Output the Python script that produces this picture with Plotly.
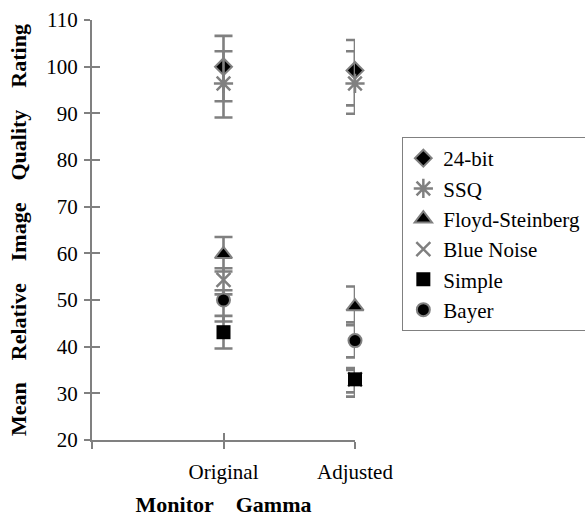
import plotly.graph_objects as go

categories = ["Original", "Adjusted"]
cat_pos = [1, 2]

series_names = ["24-bit", "SSQ", "Floyd-Steinberg", "Blue Noise", "Simple", "Bayer"]
vals_24bit = [100.0, 99.2]
plus_24bit = [6.6, 6.5]
minus_24bit = [7.4, 7.5]

vals_ssq = [96.4, 96.4]
plus_ssq = [6.9, 6.9]
minus_ssq = [7.3, 6.5]

vals_floyd = [59.8, 48.6]
plus_floyd = [3.7, 4.3]
minus_floyd = [3.7, 4.0]

vals_blue = [54.3, 33.0]
plus_blue = [2.5, 2.0]
minus_blue = [3.1, 2.8]

vals_simple = [43.1, 33.0]
plus_simple = [3.5, 2.4]
minus_simple = [3.5, 3.7]

vals_bayer = [50.0, 41.3]
plus_bayer = [2.1, 3.9]
minus_bayer = [4.6, 3.6]

y_ticks = [20, 30, 40, 50, 60, 70, 80, 90, 100, 110]

GRAY = "#808080"
FONT = "Liberation Serif"
NB = "\u00a0" * 4

series = [
    (series_names[0], vals_24bit, plus_24bit, minus_24bit,
     dict(symbol="diamond", size=13, color="black", line=dict(color=GRAY, width=2))),
    (series_names[1], vals_ssq, plus_ssq, minus_ssq,
     dict(symbol="asterisk-open", size=16, color=GRAY, line=dict(color=GRAY, width=2.5))),
    (series_names[2], vals_floyd, plus_floyd, minus_floyd,
     dict(symbol="triangle-up", size=15, color="black", line=dict(color=GRAY, width=2))),
    (series_names[3], vals_blue, plus_blue, minus_blue,
     dict(symbol="x-thin-open", size=14, color=GRAY, line=dict(color=GRAY, width=2.5))),
    (series_names[4], vals_simple, plus_simple, minus_simple,
     dict(symbol="square", size=14, color="black", line=dict(color="black", width=0))),
    (series_names[5], vals_bayer, plus_bayer, minus_bayer,
     dict(symbol="circle", size=13, color="black", line=dict(color=GRAY, width=2))),
]

fig = go.Figure()
for name, vals, ep, em, mk in series:
    fig.add_trace(go.Scatter(
        x=cat_pos, y=vals, mode="markers", name=name, legendgroup=name,
        marker=mk, cliponaxis=False,
        error_y=dict(type="data", array=ep, arrayminus=em, symmetric=False,
                     color=GRAY, thickness=2.6, width=9),
    ))

# empty trace so the overlay axes (inside half of crossing ticks) exist
fig.add_trace(go.Scatter(x=[], y=[], xaxis="x2", yaxis="y2", showlegend=False,
                         hoverinfo="skip"))

fig.update_layout(
    template="none",
    width=585, height=517,
    margin=dict(l=92, r=230, t=20, b=77, autoexpand=False),
    paper_bgcolor="white", plot_bgcolor="white",
    font=dict(family=FONT, size=21, color="black"),
    showlegend=True,
    legend=dict(
        x=1.18, xanchor="left", y=0.7214, yanchor="top",
        bordercolor=GRAY, borderwidth=1, bgcolor="white",
        font=dict(family=FONT, size=21, color="black"),
        itemwidth=30, tracegroupgap=0,
    ),
    xaxis=dict(
        range=[0, 2], tickmode="array", tickvals=[0] + cat_pos, ticktext=[""] + categories,
        showline=True, linecolor=GRAY, linewidth=2, showgrid=False, zeroline=False,
        ticks="outside", ticklen=7, tickwidth=2, tickcolor=GRAY, automargin=False,
        tickfont=dict(family=FONT, size=21), ticklabelstandoff=5,
        title=dict(text="Monitor" + NB + "Gamma", standoff=17,
                   font=dict(family=FONT, size=22, weight="bold")),
    ),
    yaxis=dict(
        range=[20, 110], tickmode="array", tickvals=y_ticks,
        showline=True, linecolor=GRAY, linewidth=2, showgrid=False, zeroline=False,
        ticks="outside", ticklen=6, tickwidth=2, tickcolor=GRAY, automargin=False,
        tickfont=dict(family=FONT, size=21), ticklabelstandoff=2,
        title=dict(text=NB.join(["Mean", "Relative", "Image", "Quality", "Rating"]),
                   standoff=14, font=dict(family=FONT, size=22, weight="bold")),
    ),
    xaxis2=dict(
        range=[0, 2], overlaying="x", anchor="y", side="bottom",
        tickmode="array", tickvals=[0] + cat_pos, showticklabels=False,
        ticks="inside", ticklen=7, tickwidth=2, tickcolor=GRAY,
        showline=False, showgrid=False, zeroline=False,
    ),
    yaxis2=dict(
        range=[20, 110], overlaying="y", anchor="x", side="left",
        tickmode="array", tickvals=y_ticks, showticklabels=False,
        ticks="inside", ticklen=8, tickwidth=2, tickcolor=GRAY,
        showline=False, showgrid=False, zeroline=False,
    ),
)

fig.write_html("out.html")
